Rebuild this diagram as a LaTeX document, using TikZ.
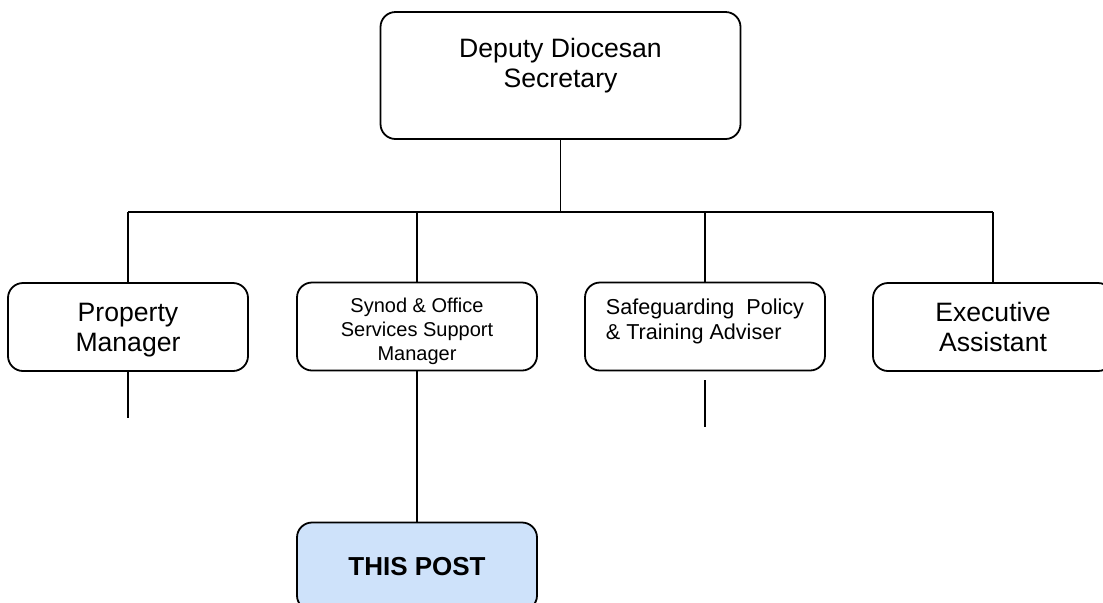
\documentclass[tikz,border=0pt]{standalone}
\usepackage{fontspec}
\setmainfont{Liberation Sans}
\usetikzlibrary{positioning}

\definecolor{postfill}{RGB}{206,226,250}

\begin{document}
\begin{tikzpicture}[
    x=0.5pt, y=-0.5pt,
    line width=0.9pt,
    caja/.style={rectangle, draw, rounded corners=7.5pt, line width=0.9pt, minimum width=120pt, minimum height=44pt, inner sep=0pt},
    grande/.style={font=\fontsize{13.3}{15}\selectfont, align=center},
    chico/.style={font=\fontsize{10}{12}\selectfont, align=center},
    medio/.style={font=\fontsize{10.8}{12.5}\selectfont, align=left, inner sep=0pt}
  ]
  \useasboundingbox (0,0) rectangle (1103,602);

  % ---------------- Deputy Diocesan Secretary ----------------
  \node (dds) [caja, minimum width=180pt, minimum height=63.5pt] at (560.5,75.5) {};
  \node (ddsTxt) [grande] at ([yshift=5pt]dds.center) {Deputy Diocesan\\Secretary};

  % Linea de distribucion
  \coordinate (busL) at (128,212);
  \coordinate (busR) at (993,212);

  % ---------------- Fila de puestos ----------------
  \node (pm) [caja] at (128,327) {};
  \node (pmTxt) [grande] at ([yshift=-1.5pt]pm.center) {Property\\Manager};

  \node (sos) [caja] at (417,326.5) {};
  \node (sosTxt) [chico] at ([yshift=-2.5pt]sos.center) {Synod \& Office\\Services Support\\Manager};

  \node (spt) [caja] at (705,326.5) {};
  \node (sptTxt) [medio, anchor=west] at (605,321) {Safeguarding~ Policy\\\& Training Adviser};

  \node (ea) [caja] at (993,327) {};
  \node (eaTxt) [grande] at (ea.center) {Executive\\Assistant};

  % ---------------- Este puesto ----------------
  \node (post) [caja, fill=postfill] at (417,566.5) {};
  \node (postTxt) [font=\fontsize{13}{15}\selectfont\bfseries] at (post.center) {THIS POST};

  % Conectores
  \draw (dds.south) -- (dds.south |- busL);
  \draw (busL) -- (busR);
  \foreach \n in {pm, sos, spt, ea}
    \draw (\n.north |- busL) -- (\n.north);

  % Lineas sueltas (opcional)
  \coordinate (pmEnd) at (128,418);
  \draw (pm.south) -- (pmEnd);
  \coordinate (sptTop) at (705,380);
  \coordinate (sptEnd) at (705,427);
  \draw (sptTop) -- (sptEnd);
  \draw (sos.south) -- (post.north);

\end{tikzpicture}
\end{document}
